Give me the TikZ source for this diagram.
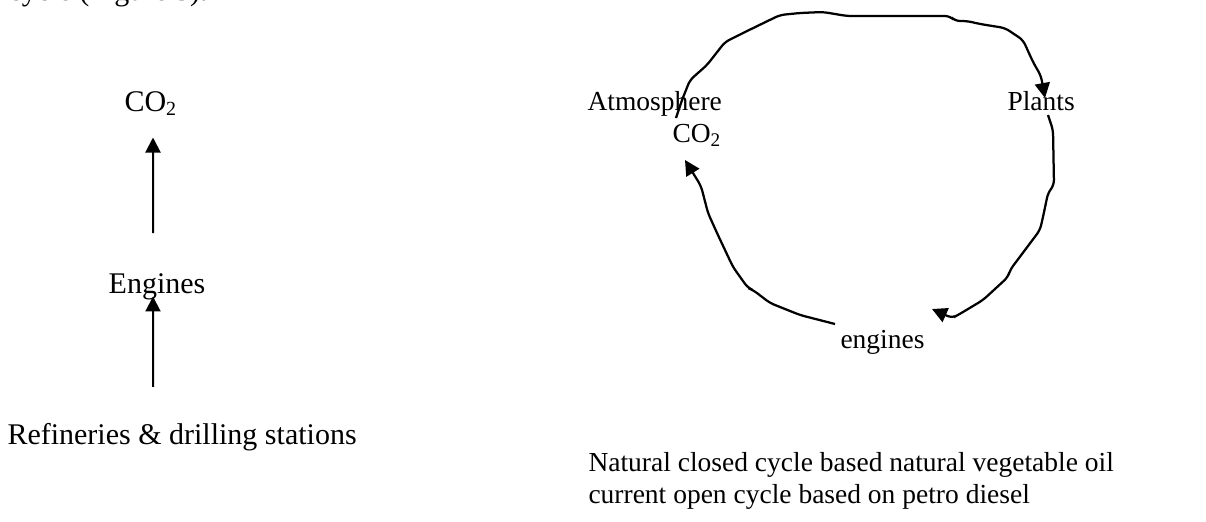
\documentclass[tikz,border=0pt]{standalone}
\usepackage{fontspec}
\setmainfont{Liberation Serif}
\usetikzlibrary{arrows.meta, positioning, calc}

\begin{document}
\begin{tikzpicture}[x=0.4pt, y=-0.4pt,
    flow/.style={-{Triangle[length=6pt, width=6pt]}, line width=0.8pt},
    hand/.style={flow, line width=0.9pt, rounded corners=2pt},
    txt/.style={inner sep=0pt, font=\fontsize{12}{14}\selectfont},
    txtsm/.style={inner sep=0pt, font=\fontsize{11}{13}\selectfont}]
  \useasboundingbox (0,0) rectangle (1206,521);

  % Cut-off line of the running text
  \node[txt, anchor=base west] (runin) at (8,0.5) {cycle (Figure 3).};

  % Open cycle (petro diesel)
  \node[txt, anchor=base] (co2l) at (151,111) {CO\textsubscript{2}};
  \node[txt, anchor=base] (engl) at (157,293) {Engines};
  \node[txt, anchor=base west] (refin) at (7,444) {Refineries \& drilling stations};

  \draw[flow] ([xshift=-1.6pt, yshift=15.8pt]engl.north) -- ([xshift=0.8pt, yshift=-8.6pt]co2l.south);
  \draw[flow] ([xshift=58.4pt, yshift=14.2pt]refin.north west) -- ([xshift=-1.6pt, yshift=1.4pt]engl.south);

  % Closed cycle (vegetable oil)
  \node[txtsm, anchor=base west] (atm) at (587,110) {Atmosphere};
  \node[txtsm, anchor=base west] (co2r) at (672,142) {CO\textsubscript{2}};
  \node[txtsm, anchor=base west] (plants) at (1007,110) {Plants};
  \node[txtsm, anchor=base west] (engr) at (840,348) {engines};

  \coordinate (atm-out) at ($(atm.base west)+(89,8)$);
  \coordinate (pl-in) at ($(plants.base west)+(38,-12)$);
  \coordinate (pl-out) at ($(plants.base west)+(41,5)$);
  \coordinate (en-in) at ($(engr.base west)+(92,-39)$);
  \coordinate (en-out) at ($(engr.base west)+(-5,-24)$);
  \coordinate (co-in) at ($(co2r.base west)+(13,18)$);

  \draw[hand] (atm-out) -- (682,100) -- (690,80) -- (707,65) -- (725,42) -- (743,33)
    -- (780,15) -- (800,13) -- (823,12) -- (847,16) -- (950,16) -- (955,21) -- (967,21)
    -- (980,24) -- (1005,28) -- (1023,40) -- (1033,62) -- (1041,76) -- (pl-in);
  \draw[hand] (pl-out) -- (1053,130) -- (1054,185) -- (1048,193) -- (1043,217) -- (1040,230)
    -- (1010,270) -- (1008,277) -- (983,300) -- (958,315) -- (952,318) -- (en-in);
  \draw[hand] (en-out) -- (800,315) -- (770,303) -- (753,290) -- (748,288) -- (733,267)
    -- (717,233) -- (708,213) -- (701,186) -- (co-in);

  % Caption lines
  \node[txtsm, anchor=base west] (cap1) at (588,471) {Natural closed cycle based natural vegetable oil};
  \node[txtsm, anchor=base west] (cap2) at (588,503) {current open cycle based on petro diesel};
\end{tikzpicture}
\end{document}
